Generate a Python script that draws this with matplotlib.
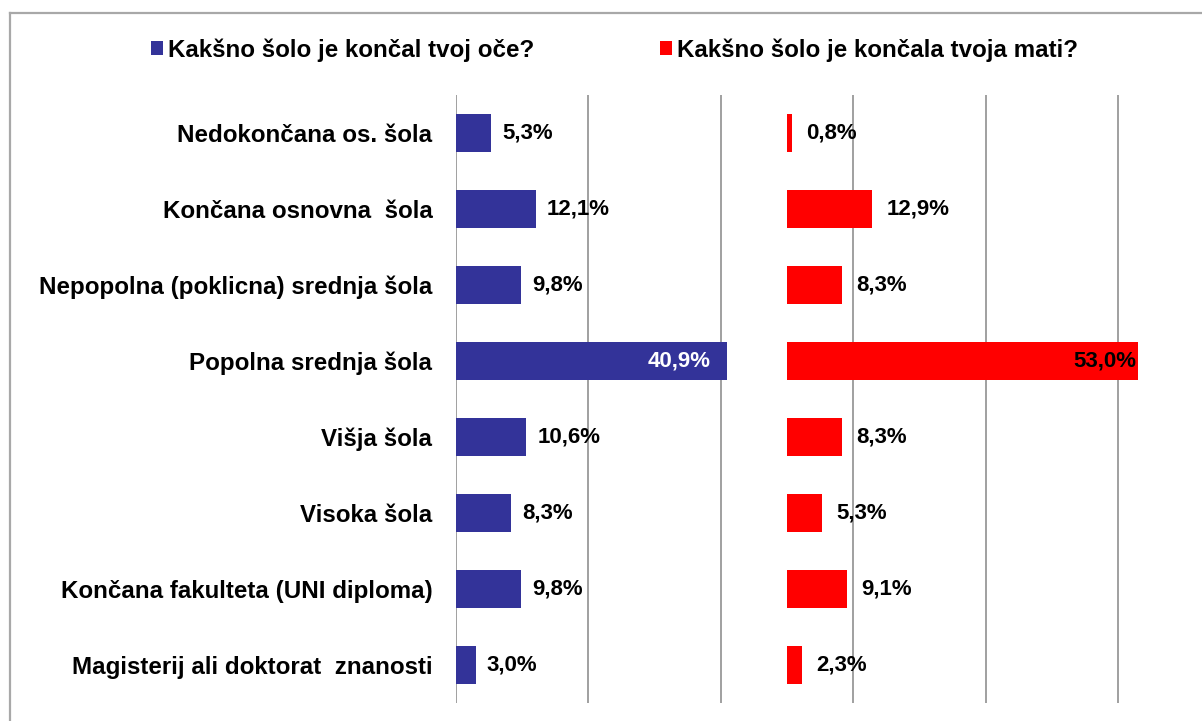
import matplotlib
matplotlib.use("Agg")
import matplotlib.pyplot as plt
from matplotlib.lines import Line2D
from matplotlib.transforms import offset_copy

categories = [
    "Nedokončana os. šola",
    "Končana osnovna  šola",
    "Nepopolna (poklicna) srednja šola",
    "Popolna srednja šola",
    "Višja šola",
    "Visoka šola",
    "Končana fakulteta (UNI diploma)",
    "Magisterij ali doktorat  znanosti",
]
oce = [5.3, 12.1, 9.8, 40.9, 10.6, 8.3, 9.8, 3.0]
mati = [0.8, 12.9, 8.3, 53.0, 8.3, 5.3, 9.1, 2.3]
series_names = ["Kakšno šolo je končal tvoj oče?", "Kakšno šolo je končala tvoja mati?"]
mati_offset = 50  # second series starts at 50 on shared scale
grid_ticks = [0, 20, 40, 60, 80, 100]

plt.rcParams["font.family"] = ["Liberation Sans", "DejaVu Sans"]

W, H = 1202, 721
fig = plt.figure(figsize=(W / 100, H / 100), dpi=100)
fig.patch.set_facecolor("white")

left_px, top_px, bottom_px = 456, 95, 703
ax = fig.add_axes([left_px / W, (H - bottom_px) / H, (W - left_px) / W, (bottom_px - top_px) / H])
px_per_unit = 6.62
ax.set_xlim(0, (W - left_px) / px_per_unit)
ax.set_ylim(len(categories) - 0.5, -0.5)

BLUE = "#333399"
RED = "#FF0000"
y = list(range(len(categories)))
b1 = ax.barh(y, oce, height=0.51, color=BLUE, zorder=3, label=series_names[0])
b2 = ax.barh(y, mati, left=mati_offset, height=0.51, color=RED, zorder=3, label=series_names[1])

for x in grid_ticks:
    ax.axvline(x, color="#A0A0A0", lw=1.4, zorder=1)

for s in ax.spines.values():
    s.set_visible(False)
ax.set_xticks([])
ax.set_yticks(y)
ax.set_yticklabels(categories, fontsize=17.4, fontweight="bold")
ax.tick_params(axis="y", length=0, pad=17)

fs = 16
for i, v in enumerate(oce):
    lab = f"{v:.1f}%".replace(".", ",")
    if v > 30:
        t = offset_copy(ax.transData, fig=fig, x=-16, y=0, units="dots")
        ax.text(v, i, lab, transform=t, ha="right", va="center", color="white", fontsize=fs, fontweight="bold", zorder=4)
    else:
        t = offset_copy(ax.transData, fig=fig, x=11, y=0, units="dots")
        ax.text(v, i, lab, transform=t, ha="left", va="center", color="black", fontsize=fs, fontweight="bold", zorder=4)
for i, v in enumerate(mati):
    lab = f"{v:.1f}%".replace(".", ",")
    if v > 30:
        t = offset_copy(ax.transData, fig=fig, x=-2, y=0, units="dots")
        ax.text(mati_offset + v, i, lab, transform=t, ha="right", va="center", color="black", fontsize=fs, fontweight="bold", zorder=4)
    else:
        t = offset_copy(ax.transData, fig=fig, x=14, y=0, units="dots")
        ax.text(mati_offset + v, i, lab, transform=t, ha="left", va="center", color="black", fontsize=fs, fontweight="bold", zorder=4)

# outer frame (cropped at right/bottom)
fig.add_artist(Line2D([9.5 / W, 9.5 / W], [1 - 12.5 / H, 0], transform=fig.transFigure, color="#A8A8A8", lw=1.6))
fig.add_artist(Line2D([9.5 / W, 1], [1 - 12.5 / H, 1 - 12.5 / H], transform=fig.transFigure, color="#A8A8A8", lw=1.6))

leg = fig.legend(handles=[b1, b2], labels=series_names, loc="center left",
                 bbox_to_anchor=(151 / W, 1 - 50 / H), ncol=2, frameon=False,
                 prop={"size": 17.4, "weight": "bold"}, handlelength=0.5, handleheight=0.55,
                 handletextpad=0.2, columnspacing=5.2, borderpad=0, borderaxespad=0)

fig.savefig("out.png", dpi=100, facecolor="white")
